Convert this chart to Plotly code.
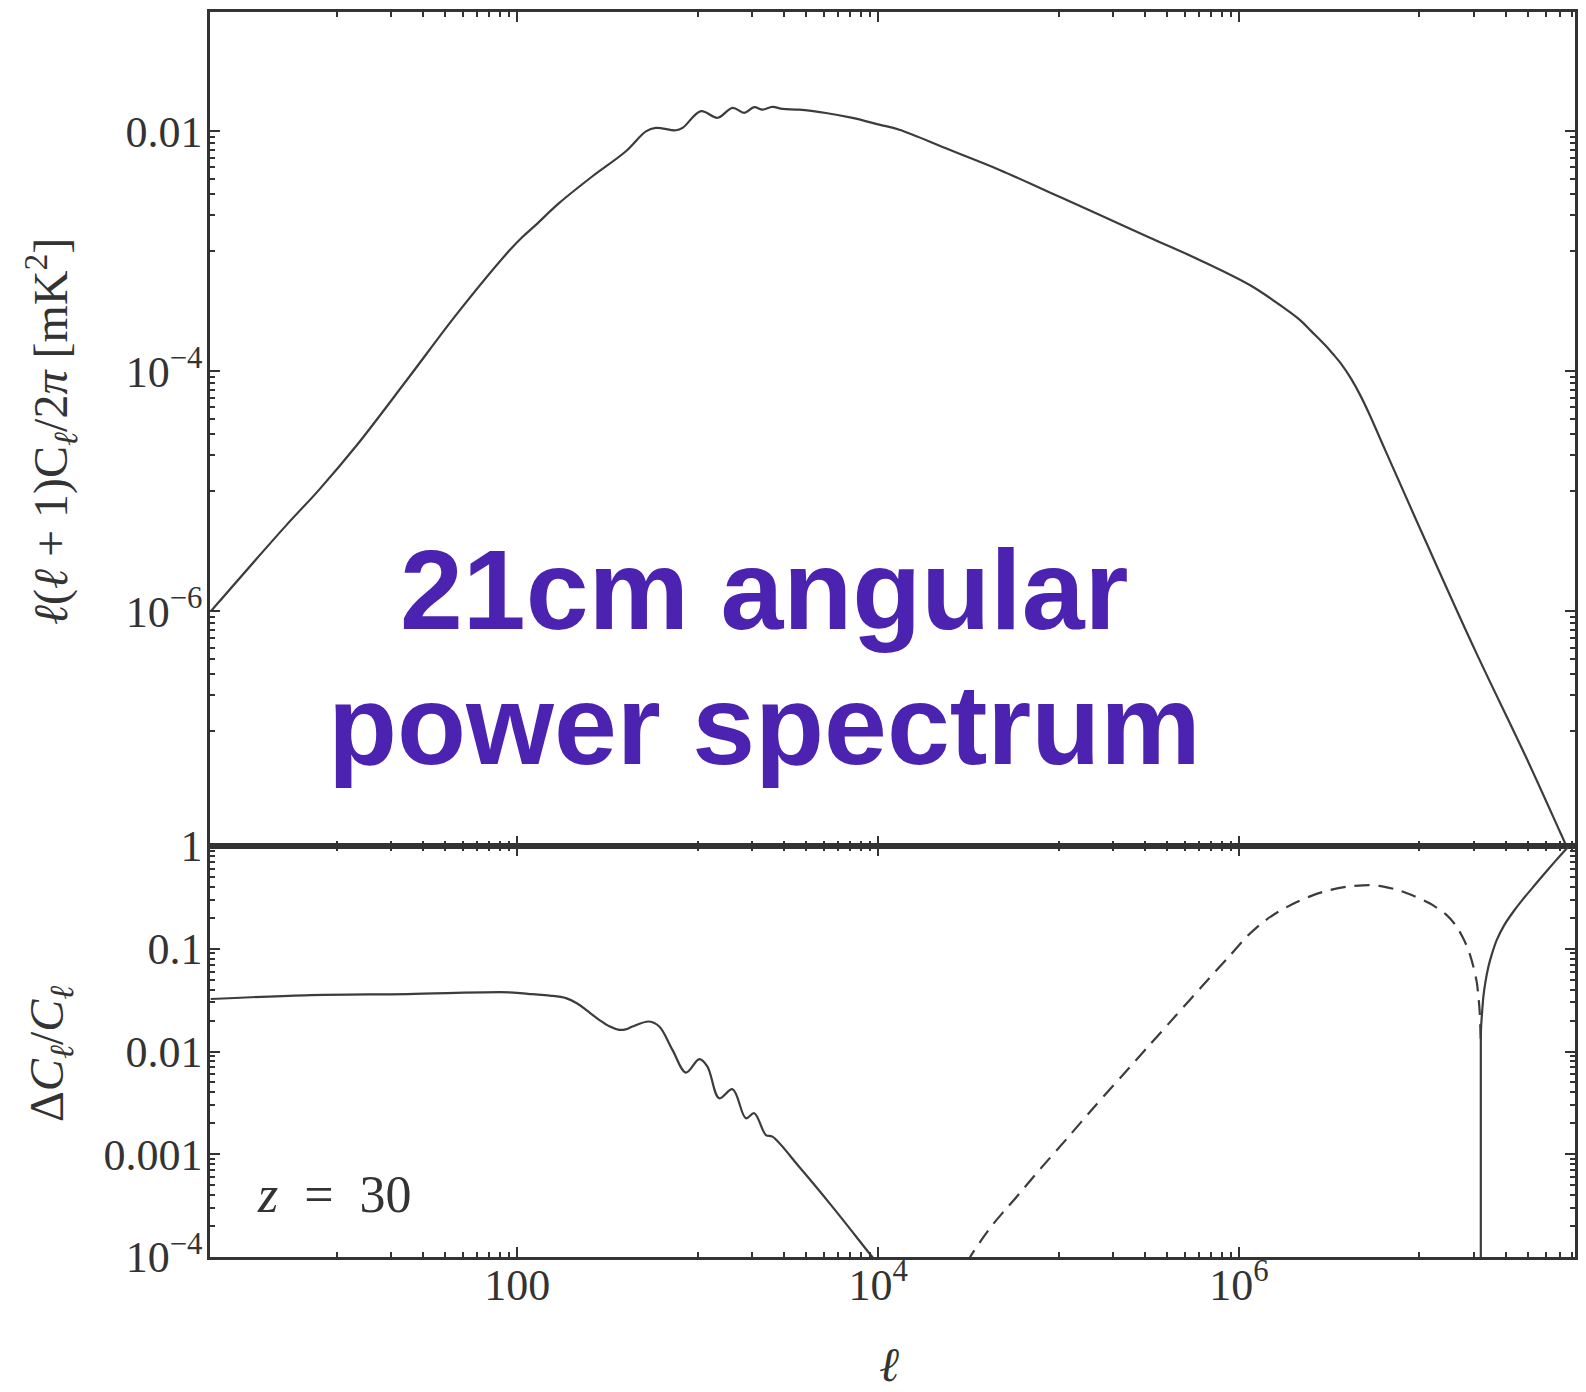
import plotly.graph_objects as go

# ---------------- data (log10 positions on the log axes) ----------------
# top panel: l(l+1)C_l/2pi [mK^2]
ell_top = [10**0.301, 10**0.713, 10**0.90, 10**1.108, 10**1.391, 10**1.673, 10**1.956,
           10**2.03, 10**2.10, 10**2.233, 10**2.417, 10**2.602, 10**2.713, 10**2.768,
           10**2.879, 10**2.916, 10**3.018, 10**3.110, 10**3.193, 10**3.258, 10**3.313,
           10**3.359, 10**3.414, 10**3.470, 10**3.562, 10**3.710, 10**3.858, 10**4.006,
           10**4.118, 10**4.396, 10**4.673, 10**4.951, 10**5.229, 10**5.506, 10**5.784,
           10**6.062, 10**6.228, 10**6.340, 10**6.40, 10**6.478, 10**6.52, 10**6.562,
           10**6.62, 10**6.673, 10**6.72, 10**6.812, 10**7.034, 10**7.311, 10**7.589,
           10**7.783, 10**7.87]
cl_top = [10**-6.0, 10**-5.294, 10**-4.99, 10**-4.621, 10**-4.067, 10**-3.508, 10**-2.995,
          10**-2.88, 10**-2.785, 10**-2.598, 10**-2.376, 10**-2.168, 10**-2.002, 10**-1.973,
          10**-1.993, 10**-1.973, 10**-1.834, 10**-1.889, 10**-1.806, 10**-1.848, 10**-1.801,
          10**-1.821, 10**-1.799, 10**-1.815, 10**-1.821, 10**-1.849, 10**-1.890, 10**-1.946,
          10**-1.989, 10**-2.156, 10**-2.323, 10**-2.511, 10**-2.699, 10**-2.888, 10**-3.075,
          10**-3.284, 10**-3.450, 10**-3.576, 10**-3.666, 10**-3.784, 10**-3.855, 10**-3.931,
          10**-4.06, 10**-4.203, 10**-4.35, 10**-4.663, 10**-5.414, 10**-6.333, 10**-7.209,
          10**-7.85, 10**-8.14]

# bottom panel: |Delta C_l / C_l|, solid low-ell branch
ell_low = [10**0.301, 10**0.825, 10**1.391, 10**1.956, 10**2.085, 10**2.18, 10**2.270,
           10**2.33, 10**2.381, 10**2.454, 10**2.51, 10**2.565, 10**2.60, 10**2.639, 10**2.731,
           10**2.787, 10**2.860, 10**2.935, 10**3.009, 10**3.054, 10**3.119, 10**3.193,
           10**3.267, 10**3.313, 10**3.378, 10**3.414, 10**3.562, 10**3.747, 10**3.960,
           10**4.01]
dcl_low = [10**-1.489, 10**-1.453, 10**-1.441, 10**-1.424, 10**-1.442, 10**-1.456, 10**-1.481,
           10**-1.53, 10**-1.595, 10**-1.692, 10**-1.755, 10**-1.789, 10**-1.785, 10**-1.757,
           10**-1.708, 10**-1.757, 10**-1.984, 10**-2.205, 10**-2.075, 10**-2.147, 10**-2.455,
           10**-2.367, 10**-2.650, 10**-2.601, 10**-2.813, 10**-2.829, 10**-3.122, 10**-3.512,
           10**-3.983, 10**-4.09]

# dashed (negative) branch
ell_neg = [10**4.49, 10**4.517, 10**4.57, 10**4.637, 10**4.70, 10**4.75, 10**4.90, 10**5.05,
           10**5.20, 10**5.35, 10**5.50, 10**5.65, 10**5.80, 10**5.95, 10**6.042, 10**6.13,
           10**6.218, 10**6.32, 10**6.411, 10**6.50, 10**6.597, 10**6.726, 10**6.80,
           10**6.874, 10**6.96, 10**7.059, 10**7.151, 10**7.20, 10**7.243, 10**7.275,
           10**7.299, 10**7.318, 10**7.327, 10**7.334, 10**7.338, 10**7.340]
dcl_neg = [10**-4.06, 10**-3.98, 10**-3.84, 10**-3.68, 10**-3.55, 10**-3.45, 10**-3.14,
           10**-2.84, 10**-2.535, 10**-2.24, 10**-1.945, 10**-1.65, 10**-1.355, 10**-1.065,
           10**-0.884, 10**-0.745, 10**-0.640, 10**-0.545, 10**-0.478, 10**-0.43, 10**-0.397,
           10**-0.380, 10**-0.395, 10**-0.425, 10**-0.48, 10**-0.560, 10**-0.673, 10**-0.77,
           10**-0.90, 10**-1.03, 10**-1.176, 10**-1.33, 10**-1.469, 10**-1.62, 10**-1.80,
           10**-1.90]

# solid (positive) high-ell branch
ell_high = [10**7.340, 10**7.340, 10**7.342, 10**7.347, 10**7.354, 10**7.365, 10**7.382,
            10**7.40, 10**7.428, 10**7.47, 10**7.520, 10**7.575, 10**7.631, 10**7.69,
            10**7.742, 10**7.817, 10**7.87]
dcl_high = [10**-5.0, 10**-1.90, 10**-1.75, 10**-1.62, 10**-1.469, 10**-1.33, 10**-1.176,
            10**-1.06, 10**-0.916, 10**-0.77, 10**-0.640, 10**-0.515, 10**-0.397, 10**-0.275,
            10**-0.169, 10**-0.022, 10**0.08]

# ticks
x_major = [100, 1e4, 1e6]
x_major_text = ["100", "10<sup>4</sup>", "10<sup>6</sup>"]
x_minor = [m * 10 ** k for k in (1, 3, 5, 7) for m in range(1, 10)]
top_major = [1e-6, 1e-4, 1e-2]
top_major_text = ["10<sup>−6</sup>", "10<sup>−4</sup>", "0.01"]
top_minor = [m * 10 ** k for k in (-7, -5, -3) for m in range(1, 10)]
bot_major = [1e-4, 1e-3, 1e-2, 1e-1, 1]
bot_major_text = ["10<sup>−4</sup>", "0.001", "0.01", "0.1", "1"]
bot_minor = [m * 10 ** k for k in (-4, -3, -2, -1) for m in range(2, 10)]

# ---------------- layout geometry ----------------
# the page body adds an 8px margin, so the figure is drawn 8px smaller and offset
OFF = 8
W, H = 1586 - OFF, 1392 - OFF
ML, MR, MT, MB = 210 - OFF, 11, 12 - OFF, 135
PW, PH = W - ML - MR, H - MT - MB
SPLIT = (1257 - 846) / PH   # bottom panel fraction


def px(x):
    return (x - OFF - ML) / PW


def py(y):
    return (H - MB - (y - OFF)) / PH


INK = "#333333"
LINE = "#3c3c3c"
SERIF = "Liberation Serif, Times New Roman, serif"

fig = go.Figure()
fig.add_trace(go.Scatter(x=ell_top, y=cl_top, mode="lines", xaxis="x", yaxis="y",
                         line=dict(color=LINE, width=2.2, shape="spline", smoothing=1.0),
                         showlegend=False))
fig.add_trace(go.Scatter(x=ell_low, y=dcl_low, mode="lines", xaxis="x2", yaxis="y2",
                         line=dict(color=LINE, width=2.2, shape="spline", smoothing=1.0),
                         showlegend=False))
fig.add_trace(go.Scatter(x=ell_neg, y=dcl_neg, mode="lines", xaxis="x2", yaxis="y2",
                         line=dict(color=LINE, width=2.2, dash="15px,9px", shape="spline",
                                   smoothing=0.8),
                         showlegend=False))
fig.add_trace(go.Scatter(x=ell_high, y=dcl_high, mode="lines", xaxis="x2", yaxis="y2",
                         line=dict(color=LINE, width=2.2, shape="spline", smoothing=0.6),
                         showlegend=False))

common_axis = dict(showgrid=False, zeroline=False, showline=True, linecolor=INK, linewidth=2.5,
                   mirror="allticks", ticks="inside", ticklen=10, tickwidth=2, tickcolor=INK,
                   tickfont=dict(family=SERIF, size=44, color=INK), type="log")
minor_ticks = dict(tickmode="array", ticks="inside", ticklen=5, tickwidth=1.5, tickcolor=INK)

XR = [0.297, 7.862]
fig.update_layout(
    width=W, height=H,
    margin=dict(l=ML, r=MR, t=MT, b=MB, autoexpand=False),
    paper_bgcolor="white", plot_bgcolor="white",
    showlegend=False,
    xaxis=dict(common_axis, domain=[0, 1], anchor="y", range=XR, tickmode="array",
               tickvals=x_major, ticktext=x_major_text, showticklabels=False,
               minor=dict(minor_ticks, tickvals=x_minor)),
    xaxis2=dict(common_axis, domain=[0, 1], anchor="y2", range=XR, tickmode="array",
                tickvals=x_major, ticktext=x_major_text, ticklabelstandoff=-13,
                minor=dict(minor_ticks, tickvals=x_minor)),
    yaxis=dict(common_axis, domain=[SPLIT, 1], anchor="x", range=[-7.954, -1.008],
               tickmode="array", tickvals=top_major, ticktext=top_major_text,
               ticklabelstandoff=-4, minor=dict(minor_ticks, tickvals=top_minor)),
    yaxis2=dict(common_axis, domain=[0, SPLIT], anchor="x2", range=[-4, 0],
                tickmode="array", tickvals=bot_major, ticktext=bot_major_text,
                ticklabelstandoff=-4, minor=dict(minor_ticks, tickvals=bot_minor)),
)

ann = []
# axis titles
ann.append(dict(x=px(51), y=py(432), xref="paper", yref="paper", showarrow=False,
                text="<i>ℓ</i>(<i>ℓ</i> + 1)C<sub><i>ℓ</i></sub>/2<i>π</i> [mK<sup>2</sup>]",
                textangle=-90, font=dict(family=SERIF, size=48, color=INK),
                xanchor="center", yanchor="middle"))
ann.append(dict(x=px(50), y=py(1054), xref="paper", yref="paper", showarrow=False,
                text="Δ<i>C</i><sub><i>ℓ</i></sub>/<i>C</i><sub><i>ℓ</i></sub>",
                textangle=-90, font=dict(family=SERIF, size=48, color=INK),
                xanchor="center", yanchor="middle"))
ann.append(dict(x=px(889), y=py(1364), xref="paper", yref="paper", showarrow=False,
                text="<i>ℓ</i>", font=dict(family=SERIF, size=48, color=INK),
                xanchor="center", yanchor="middle"))
ann.append(dict(x=px(334), y=py(1194), xref="paper", yref="paper", showarrow=False,
                text="<i>z</i>\u2002=\u200230", font=dict(family=SERIF, size=52, color=INK),
                xanchor="center", yanchor="middle"))
# overlay title
PURPLE = "#4B23B0"
SANS = "Liberation Sans, Arial, Helvetica, sans-serif"
ann.append(dict(x=px(764), y=py(590), xref="paper", yref="paper", showarrow=False,
                text="<b>21cm angular</b>", font=dict(family=SANS, size=113, color=PURPLE),
                xanchor="center", yanchor="middle"))
ann.append(dict(x=px(764), y=py(725), xref="paper", yref="paper", showarrow=False,
                text="<b>power spectrum</b>", font=dict(family=SANS, size=113, color=PURPLE),
                xanchor="center", yanchor="middle"))
fig.update_layout(annotations=ann)

fig.write_html("out.html")
